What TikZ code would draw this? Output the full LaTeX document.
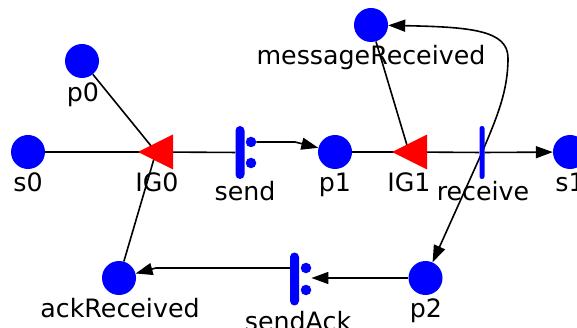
\documentclass[tikz,border=0pt]{standalone}
\usepackage{fontspec}
\setmainfont{DejaVu Sans}
\usetikzlibrary{arrows.meta,backgrounds}

\begin{document}
\begin{tikzpicture}[x=1pt,y=-1pt,
  place/.style={circle,fill=blue,minimum size=34pt,inner sep=0pt},
  bar/.style={fill=blue,rounded corners=4.5pt,minimum width=9pt,minimum height=53pt,inner sep=0pt},
  thinbar/.style={fill=blue,rounded corners=2.4pt,minimum width=5pt,minimum height=53pt,inner sep=0pt},
  dot/.style={circle,fill=blue,minimum size=10.5pt,inner sep=0pt},
  lbl/.style={anchor=base,inner sep=0pt,font=\fontsize{25.3}{29}\selectfont},
  gate/.style={fill=red},
  arc/.style={line width=1.6pt},
  flow/.style={arc,-{Triangle[length=17pt,width=12pt]}}
]
\useasboundingbox (0,0) rectangle (577,328);
\clip (0,0) rectangle (577,328);

% places
\node[place] (s0)  at (28,152)    {};
\node[place] (p0)  at (82,61)     {};
\node[place] (p1)  at (335,152)   {};
\node[place] (s1)  at (570,152)   {};
\node[place] (mR)  at (371,25)    {};
\node[place] (p2)  at (425.5,278) {};
\node[place] (ack) at (119,278)   {};

% transitions
\node[bar] (send) at (240,152.5) {};
\node[dot] (sd1) at (251,142) {};
\node[dot] (sd2) at (251,163) {};
\node[thinbar] (receive) at (482,152.5) {};
\node[bar] (sendAck) at (294.5,279) {};
\node[dot] (sa1) at (306,268) {};
\node[dot] (sa2) at (306,290) {};

% gates (left-pointing triangles)
\coordinate (IG0) at (156,152);
\coordinate (IG1) at (409,152);
\fill[gate] (IG0) ++(-18,0) -- ++(35,-17.5) -- ++(0,35) -- cycle;
\fill[gate] (IG1) ++(-17,0) -- ++(35,-17.5) -- ++(0,35) -- cycle;

% arcs
\begin{scope}[on background layer]
  \draw[arc] (s0) -- (IG0);
  \draw[arc] (IG0) -- (send);
  \draw[arc] (p0) -- (IG0);
  \draw[arc] (IG0) -- (ack);
  \draw[flow] (sd1) -- ++(44,0) -- (p1);
  \draw[arc] (p1) -- (IG1);
  \draw[arc] (IG1) -- (receive);
  \draw[arc] (mR) -- (IG1);
  \draw[flow] (receive) -- (s1);
  \draw[flow] (receive.center) -- (p2);
  \draw[flow] (receive.center) .. controls (498,115) and (508,90) .. (508,58)
              .. controls (508,30) and (470,27) .. (mR);
  \draw[flow] (p2) -- (sa1.east |- p2);
  \draw[flow] (sendAck.west |- sa1) -- ++(-134,0) -- (ack);
\end{scope}

% labels
\node[lbl] (s0-l)      at (28,192)  {s0};
\node[lbl] (p0-l)      at (83,102)  {p0};
\node[lbl] (IG0-l)     at (157,192) {IG0};
\node[lbl] (send-l)    at (245,201) {send};
\node[lbl] (p1-l)      at (335,192) {p1};
\node[lbl] (IG1-l)     at (409,192) {IG1};
\node[lbl] (receive-l) at (483,201) {receive};
\node[lbl] (s1-l)      at (570,192) {s1};
\node[lbl] (mR-l)      at (371,65)  {messageReceived};
\node[lbl] (p2-l)      at (426,317) {p2};
\node[lbl] (sendAck-l) at (298,330) {sendAck};
\node[lbl] (ack-l)     at (120,317) {ackReceived};
\end{tikzpicture}
\end{document}
